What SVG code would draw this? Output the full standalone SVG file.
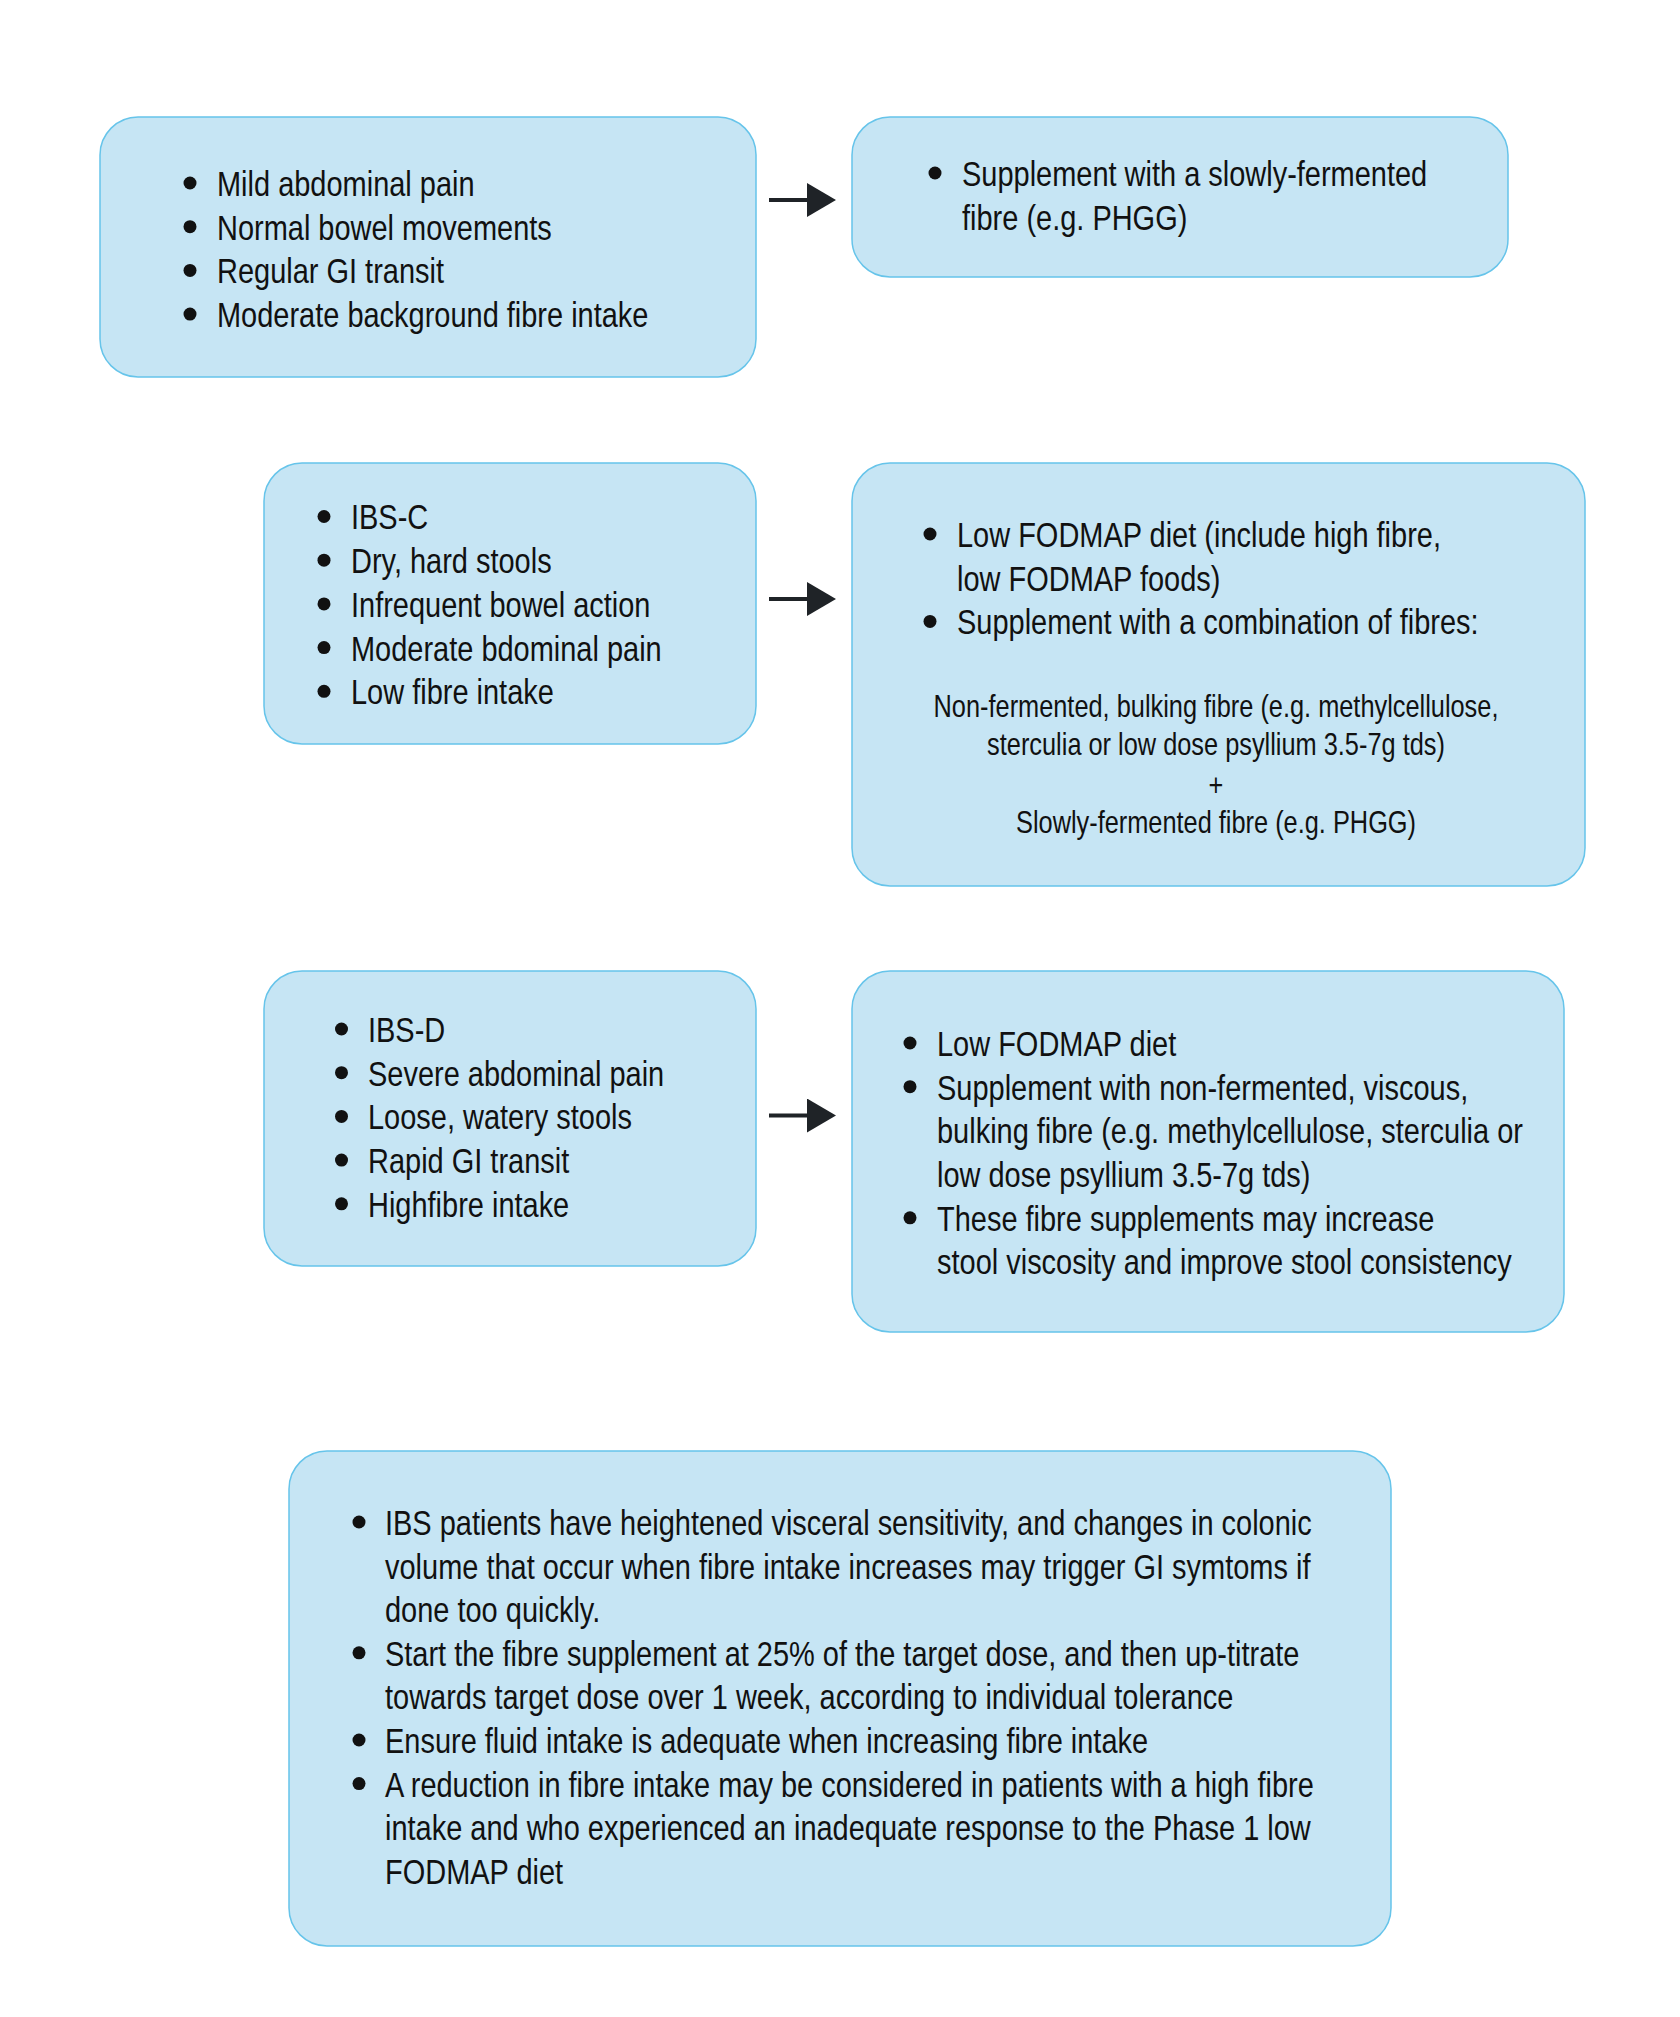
<svg xmlns="http://www.w3.org/2000/svg" width="1680" height="2017" viewBox="0 0 1680 2017">
<style>
.box{fill:#c6e5f4;stroke:#66c4ea;stroke-width:1.5}
.t{font-family:"Liberation Sans",Arial,sans-serif;font-size:36px;fill:#111}
.s{font-family:"Liberation Sans",Arial,sans-serif;font-size:31.5px;fill:#111;text-anchor:middle}
.b{fill:#111}
.conn{stroke:#1f2327;stroke-width:4;fill:none}
</style>
<defs>
<marker id="ah" markerUnits="userSpaceOnUse" markerWidth="30" markerHeight="34" refX="0" refY="17" orient="auto" viewBox="0 0 30 34">
<path d="M0,0 L29,17 L0,34 Z" fill="#1f2327"/>
</marker>
</defs>
<rect width="1680" height="2017" fill="#ffffff"/>

<g id="node1">
<rect class="box" x="100" y="117" width="656" height="260" rx="38"/>
<circle class="b" cx="190" cy="183" r="6.5"/>
<circle class="b" cx="190" cy="226.7" r="6.5"/>
<circle class="b" cx="190" cy="270.4" r="6.5"/>
<circle class="b" cx="190" cy="314.1" r="6.5"/>
<g transform="matrix(0.805 0 0 1 217 0)">
<text class="t" x="0" y="196">Mild abdominal pain</text>
<text class="t" x="0" y="239.7">Normal bowel movements</text>
<text class="t" x="0" y="283.4">Regular GI transit</text>
<text class="t" x="0" y="327.1">Moderate background fibre intake</text>
</g>
</g>

<g id="node2">
<rect class="box" x="852" y="117" width="656" height="160" rx="38"/>
<circle class="b" cx="935" cy="173" r="6.5"/>
<g transform="matrix(0.805 0 0 1 962 0)">
<text class="t" x="0" y="186">Supplement with a slowly-fermented</text>
<text class="t" x="0" y="229.7">fibre (e.g. PHGG)</text>
</g>
</g>

<g id="node3">
<rect class="box" x="264" y="463" width="492" height="281" rx="38"/>
<circle class="b" cx="324" cy="516.5" r="6.5"/>
<circle class="b" cx="324" cy="560.2" r="6.5"/>
<circle class="b" cx="324" cy="603.9" r="6.5"/>
<circle class="b" cx="324" cy="647.6" r="6.5"/>
<circle class="b" cx="324" cy="691.3" r="6.5"/>
<g transform="matrix(0.805 0 0 1 351 0)">
<text class="t" x="0" y="529.5">IBS-C</text>
<text class="t" x="0" y="573.2">Dry, hard stools</text>
<text class="t" x="0" y="616.9">Infrequent bowel action</text>
<text class="t" x="0" y="660.6">Moderate bdominal pain</text>
<text class="t" x="0" y="704.3">Low fibre intake</text>
</g>
</g>

<g id="node4">
<rect class="box" x="852" y="463" width="733" height="423" rx="38"/>
<circle class="b" cx="930" cy="534" r="6.5"/>
<circle class="b" cx="930" cy="621.4" r="6.5"/>
<g transform="matrix(0.805 0 0 1 957 0)">
<text class="t" x="0" y="547">Low FODMAP diet (include high fibre,</text>
<text class="t" x="0" y="590.7">low FODMAP foods)</text>
<text class="t" x="0" y="634.4">Supplement with a combination of fibres:</text>
</g>
<g transform="matrix(0.805 0 0 1 1216 0)">
<text class="s" x="0" y="717">Non-fermented, bulking fibre (e.g. methylcellulose,</text>
<text class="s" x="0" y="755.5">sterculia or low dose psyllium 3.5-7g tds)</text>
<text class="s" x="0" y="796">+</text>
<text class="s" x="0" y="833">Slowly-fermented fibre (e.g. PHGG)</text>
</g>
</g>

<g id="node5">
<rect class="box" x="264" y="971" width="492" height="295" rx="38"/>
<circle class="b" cx="341.5" cy="1029" r="6.5"/>
<circle class="b" cx="341.5" cy="1072.7" r="6.5"/>
<circle class="b" cx="341.5" cy="1116.4" r="6.5"/>
<circle class="b" cx="341.5" cy="1160.1" r="6.5"/>
<circle class="b" cx="341.5" cy="1203.8" r="6.5"/>
<g transform="matrix(0.805 0 0 1 368 0)">
<text class="t" x="0" y="1042">IBS-D</text>
<text class="t" x="0" y="1085.7">Severe abdominal pain</text>
<text class="t" x="0" y="1129.4">Loose, watery stools</text>
<text class="t" x="0" y="1173.1">Rapid GI transit</text>
<text class="t" x="0" y="1216.8">Highfibre intake</text>
</g>
</g>

<g id="node6">
<rect class="box" x="852" y="971" width="712" height="361" rx="38"/>
<circle class="b" cx="910" cy="1043" r="6.5"/>
<circle class="b" cx="910" cy="1086.7" r="6.5"/>
<circle class="b" cx="910" cy="1217.8" r="6.5"/>
<g transform="matrix(0.805 0 0 1 937 0)">
<text class="t" x="0" y="1056">Low FODMAP diet</text>
<text class="t" x="0" y="1099.7">Supplement with non-fermented, viscous,</text>
<text class="t" x="0" y="1143.4">bulking fibre (e.g. methylcellulose, sterculia or</text>
<text class="t" x="0" y="1187.1">low dose psyllium 3.5-7g tds)</text>
<text class="t" x="0" y="1230.8">These fibre supplements may increase</text>
<text class="t" x="0" y="1274.5">stool viscosity and improve stool consistency</text>
</g>
</g>

<g id="node7">
<rect class="box" x="289" y="1451" width="1102" height="495" rx="38"/>
<circle class="b" cx="359" cy="1522" r="6.5"/>
<circle class="b" cx="359" cy="1652.8" r="6.5"/>
<circle class="b" cx="359" cy="1740" r="6.5"/>
<circle class="b" cx="359" cy="1783.6" r="6.5"/>
<g transform="matrix(0.805 0 0 1 385 0)">
<text class="t" x="0" y="1535">IBS patients have heightened visceral sensitivity, and changes in colonic</text>
<text class="t" x="0" y="1578.6">volume that occur when fibre intake increases may trigger GI symtoms if</text>
<text class="t" x="0" y="1622.2">done too quickly.</text>
<text class="t" x="0" y="1665.8">Start the fibre supplement at 25% of the target dose, and then up-titrate</text>
<text class="t" x="0" y="1709.4">towards target dose over 1 week, according to individual tolerance</text>
<text class="t" x="0" y="1753">Ensure fluid intake is adequate when increasing fibre intake</text>
<text class="t" x="0" y="1796.6">A reduction in fibre intake may be considered in patients with a high fibre</text>
<text class="t" x="0" y="1840.2">intake and who experienced an inadequate response to the Phase 1 low</text>
<text class="t" x="0" y="1883.8">FODMAP diet</text>
</g>
</g>

<g id="connectors">
<line class="conn" x1="769" y1="200" x2="807" y2="200" marker-end="url(#ah)"/>
<line class="conn" x1="769" y1="599" x2="807" y2="599" marker-end="url(#ah)"/>
<line class="conn" x1="769" y1="1115.5" x2="807" y2="1115.5" marker-end="url(#ah)"/>
</g>
</svg>
